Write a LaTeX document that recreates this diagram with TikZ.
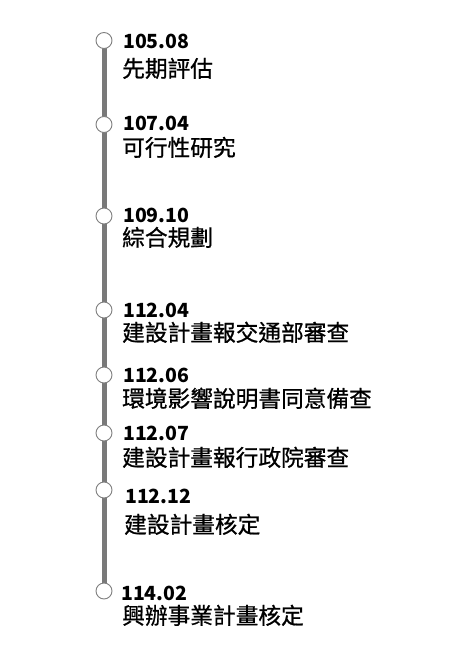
\documentclass[tikz,border=0pt]{standalone}
\usepackage{fontspec}
\newfontfamily\cjk{Noto Sans CJK TC}
\newfontfamily\cjkdesc[FakeBold=0.8]{Noto Sans CJK TC}
\tikzset{
  x=1pt,y=-1pt,
  tl/.style={line width=5.5pt,draw=gray!95!black},
  dot/.style={circle,draw=gray,line width=0.9pt,fill=white,minimum size=16pt,inner sep=0pt},
  datelbl/.style={anchor=base west,inner sep=0pt,font=\cjk\bfseries\fontsize{19.5}{19.5}\selectfont},
  desc/.style={anchor=base west,inner sep=0pt,font=\cjkdesc\fontsize{22.7}{22.7}\selectfont},
}
\begin{document}
\begin{tikzpicture}
\useasboundingbox[fill=white] (0,0) rectangle (473,648);
\coordinate (top) at (104.5,40.5);
\coordinate (bot) at (104.5,591);
\draw[tl] (top) -- (bot);
\node[dot] (c1) at (104,40.5) {};
\node[dot] (c2) at (104,124.5) {};
\node[dot] (c3) at (104,216) {};
\node[dot] (c4) at (104,310) {};
\node[dot] (c5) at (104,375) {};
\node[dot] (c6) at (104,433) {};
\node[dot] (c7) at (104,490) {};
\node[dot] (c8) at (104,591) {};
\node[datelbl] (d1) at (123,48) {105.08};
\node[desc] (t1) at (122,77) {先期評估};
\node[datelbl] (d2) at (123,130) {107.04};
\node[desc] (t2) at (122,156) {可行性研究};
\node[datelbl] (d3) at (123,222) {109.10};
\node[desc] (t3) at (122,246) {綜合規劃};
\node[datelbl] (d4) at (123,317) {112.04};
\node[desc] (t4) at (122,341) {建設計畫報交通部審查};
\node[datelbl] (d5) at (123,382) {112.06};
\node[desc] (t5) at (122,407) {環境影響說明書同意備查};
\node[datelbl] (d6) at (123,440) {112.07};
\node[desc] (t6) at (122,466) {建設計畫報行政院審查};
\node[datelbl] (d7) at (125,503) {112.12};
\node[desc] (t7) at (124,533) {建設計畫核定};
\node[datelbl] (d8) at (121,600) {114.02};
\node[desc] (t8) at (122,624) {興辦事業計畫核定};
\end{tikzpicture}
\end{document}
